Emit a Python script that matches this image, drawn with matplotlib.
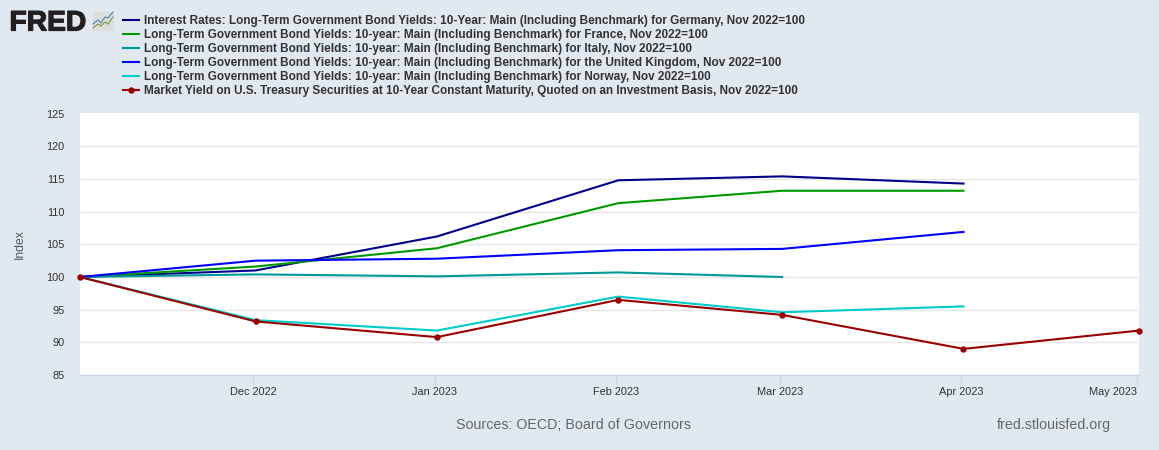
import datetime as dt
import matplotlib
matplotlib.use("Agg")
import matplotlib.pyplot as plt
import matplotlib.dates as mdates
import matplotlib.patheffects as pe
from matplotlib.patches import FancyBboxPatch
from matplotlib.lines import Line2D

plt.rcParams['font.family'] = ['Liberation Sans', 'DejaVu Sans']

dates = [dt.date(2022, 11, 1), dt.date(2022, 12, 1), dt.date(2023, 1, 1), dt.date(2023, 2, 1),
         dt.date(2023, 3, 1), dt.date(2023, 4, 1), dt.date(2023, 5, 1)]
germany = [100, 101.0, 106.2, 114.8, 115.4, 114.3]
france = [100, 101.6, 104.4, 111.3, 113.2, 113.2]
italy = [100, 100.4, 100.1, 100.7, 100.0]
uk = [100, 102.5, 102.8, 104.1, 104.3, 106.9]
norway = [100, 93.4, 91.8, 97.0, 94.6, 95.5]
us = [100, 93.2, 90.8, 96.5, 94.2, 89.0, 91.8]

labels = [
    "Interest Rates: Long-Term Government Bond Yields: 10-Year: Main (Including Benchmark) for Germany, Nov 2022=100",
    "Long-Term Government Bond Yields: 10-year: Main (Including Benchmark) for France, Nov 2022=100",
    "Long-Term Government Bond Yields: 10-year: Main (Including Benchmark) for Italy, Nov 2022=100",
    "Long-Term Government Bond Yields: 10-year: Main (Including Benchmark) for the United Kingdom, Nov 2022=100",
    "Long-Term Government Bond Yields: 10-year: Main (Including Benchmark) for Norway, Nov 2022=100",
    "Market Yield on U.S. Treasury Securities at 10-Year Constant Maturity, Quoted on an Investment Basis, Nov 2022=100",
]
colors = ['#00008b', '#009900', '#009999', '#0000ff', '#00cccc', '#990000']
tick_labels = ['Dec 2022', 'Jan 2023', 'Feb 2023', 'Mar 2023', 'Apr 2023', 'May 2023']
y_ticks = [85, 90, 95, 100, 105, 110, 115, 120, 125]

BG = '#e1e9f0'
W, H = 1159, 450
fig = plt.figure(figsize=(W / 100, H / 100), dpi=100, facecolor=BG)
ax = fig.add_axes([80 / W, 1 - 375 / H, 1059 / W, 262 / H], facecolor='white')

series = [germany, france, italy, uk, norway, us]
handles = []
for vals, col, lab in zip(series, colors, labels):
    is_us = vals is us
    ln, = ax.plot(dates[:len(vals)], vals, color=col, lw=1.5, label=lab,
                  marker='o' if is_us else None, ms=4.6, mew=0, clip_on=False, zorder=3,
                  solid_joinstyle='miter')
    handles.append(ln)

ax.set_xlim(dates[0], dates[-1])
ax.set_ylim(85, 125.1)
ax.set_yticks(y_ticks)
ax.grid(axis='y', color='#e6e6e6', lw=1)
ax.get_ygridlines()[-1].set_visible(False)
ax.set_axisbelow(True)
# category ticks sit a hair left of the data points in the original
ax.set_xticks([mdates.date2num(d) - 0.35 for d in dates[1:]])
ax.set_xticklabels(tick_labels)
xl = ax.get_xticklabels()
xl[-1].set_ha('right')
ax.tick_params(axis='x', length=7.2, width=1, color='#ccd6eb', labelsize=7.9, labelcolor='#333333', pad=1.5)
ax.tick_params(axis='y', length=0, labelsize=7.9, labelcolor='#333333', pad=11)
for s in ['top', 'right', 'left']:
    ax.spines[s].set_visible(False)
ax.spines['bottom'].set_color('#ccd6eb')
ax.spines['bottom'].set_linewidth(1)

fig.text(20 / W, 1 - 244 / H, 'Index', rotation=90, ha='center', va='center', fontsize=8.7, color='#555555')

leg = fig.legend(handles=handles, loc='upper left', bbox_to_anchor=(123 / W, 1 - 15 / H), frameon=False,
                 prop={'weight': 'bold', 'size': 8.43},
                 handlelength=1.37, handletextpad=0.43, labelspacing=0.17, borderpad=0, borderaxespad=0)
for t in leg.get_texts():
    t.set_color('#333333')

fig.text(573.5 / W, 1 - 425 / H, 'Sources: OECD; Board of Governors', ha='center', va='center', fontsize=10.25, color='#666666')
fig.text(1053.5 / W, 1 - 425 / H, 'fred.stlouisfed.org', ha='center', va='center', fontsize=10.25, color='#666666')

# FRED logo
logo = fig.text(9.5 / W, 1 - 30.5 / H, 'FRED', ha='left', va='baseline', fontsize=20.3, fontweight='bold', color='#231f20')
logo.set_path_effects([pe.withStroke(linewidth=0.9, foreground='#231f20')])
box = FancyBboxPatch((92.5 / W, 1 - 30.5 / H), 21 / W, 19 / H, boxstyle='square,pad=0',
                     transform=fig.transFigure, facecolor='#dcdedb', edgecolor='none')
fig.add_artist(box)
fig.add_artist(Line2D([93 / W, 98 / W, 101 / W, 105 / W, 108 / W, 113 / W],
                      [1 - 24 / H, 1 - 20 / H, 1 - 23 / H, 1 - 17 / H, 1 - 18 / H, 1 - 12 / H],
                      color='#5a8fb0', lw=0.9, transform=fig.transFigure))
fig.add_artist(Line2D([93 / W, 98 / W, 101 / W, 105 / W, 108 / W, 113 / W],
                      [1 - 28 / H, 1 - 24 / H, 1 - 26 / H, 1 - 22 / H, 1 - 24 / H, 1 - 17 / H],
                      color='#7f9f55', lw=0.9, transform=fig.transFigure))

fig.savefig('out.png', dpi=100, facecolor=BG)
